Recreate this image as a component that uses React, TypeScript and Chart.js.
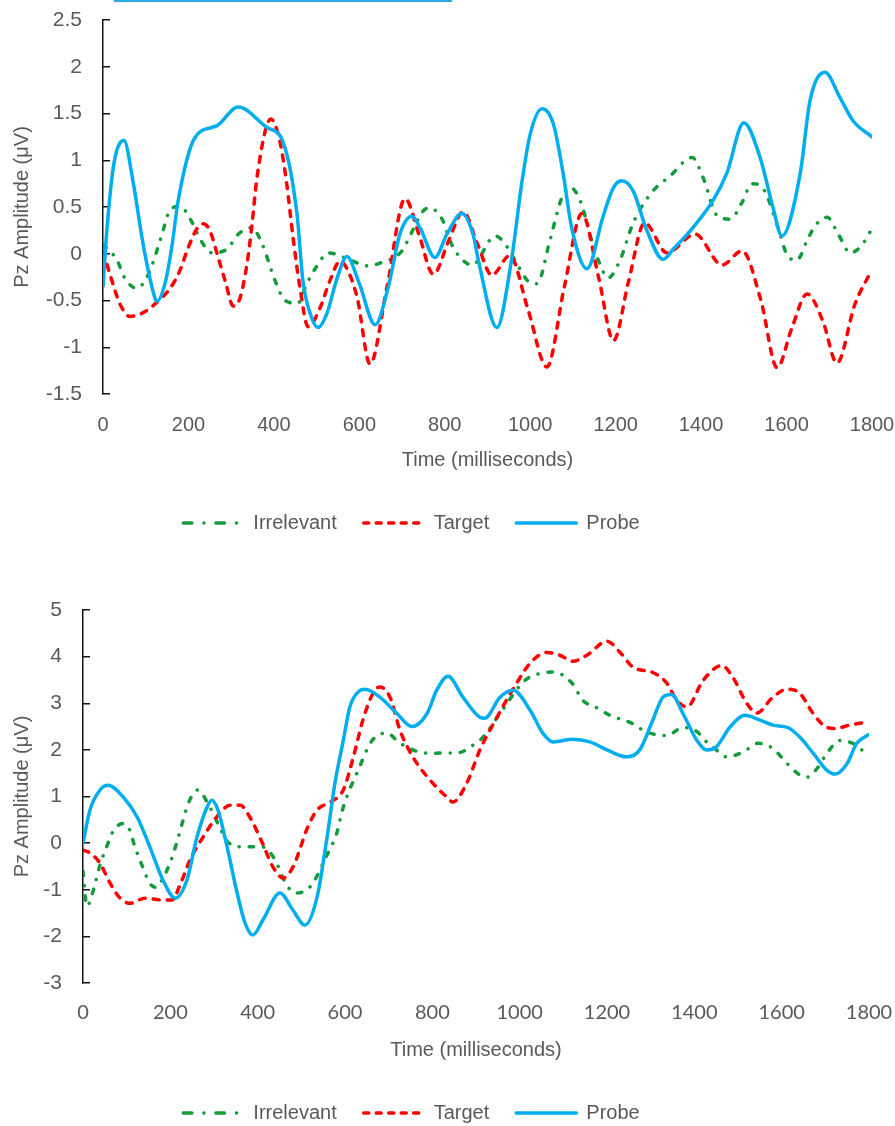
import React, { useEffect, useRef } from "react";
import { Chart, registerables } from "chart.js";

Chart.register(...registerables);

// ---------- data ----------
const seriesNames = ["Irrelevant", "Target", "Probe"];
const xTickValues = [0, 200, 400, 600, 800, 1000, 1200, 1400, 1600, 1800];
const topYTickValues = [-1.5, -1, -0.5, 0, 0.5, 1, 1.5, 2, 2.5];
const bottomYTickValues = [-3, -2, -1, 0, 1, 2, 3, 4, 5];
const xTitleText = "Time (milliseconds)";
const yTitleText = "Pz Amplitude (μV)";

// [time (ms), amplitude (µV)]
const topIrrelevant = [
  [0, 0.1], [33, -0.07], [51, -0.26], [79, -0.37], [106, -0.22], [137, 0.19], [153, 0.43], [180, 0.51],
  [207, 0.35], [227, 0.16], [255, 0.01], [290, 0.05], [317, 0.21], [348, 0.28], [372, 0.11], [403, -0.29],
  [426, -0.5], [456, -0.53], [477, -0.32], [501, -0.13], [527, 0.01], [570, -0.05], [620, -0.13], [648, -0.1],
  [700, 0.03], [713, 0.14], [750, 0.46], [765, 0.49], [796, 0.35], [812, 0.14], [836, -0.04], [864, -0.12],
  [918, 0.19], [948, 0.06], [969, -0.11], [1000, -0.31], [1016, -0.32], [1046, 0.14], [1074, 0.6], [1093, 0.71],
  [1117, 0.57], [1144, 0.14], [1163, -0.11], [1182, -0.26], [1210, -0.07], [1241, 0.33], [1287, 0.67], [1327, 0.83],
  [1379, 1.03], [1405, 0.81], [1437, 0.41], [1468, 0.37], [1496, 0.55], [1519, 0.75], [1545, 0.7], [1580, 0.28],
  [1600, 0.0], [1624, -0.07], [1648, 0.14], [1667, 0.3], [1695, 0.39], [1721, 0.21], [1749, 0.01], [1776, 0.09],
  [1795, 0.23],
];
const topTarget = [
  [0, 0.03], [21, -0.29], [40, -0.54], [63, -0.67], [94, -0.63], [126, -0.52], [157, -0.37], [180, -0.18],
  [199, 0.06], [220, 0.27], [234, 0.32], [250, 0.25], [267, 0.0], [286, -0.29], [305, -0.56], [321, -0.47],
  [337, -0.11], [349, 0.32], [360, 0.8], [393, 1.44], [414, 1.2], [430, 0.75], [445, 0.17], [461, -0.36],
  [480, -0.78], [508, -0.58], [531, -0.29], [555, -0.08], [570, -0.15], [595, -0.47], [625, -1.18], [665, -0.35],
  [707, 0.59], [740, 0.2], [773, -0.22], [810, 0.15], [843, 0.45], [877, 0.1], [910, -0.23], [952, -0.02],
  [995, -0.6], [1039, -1.21], [1080, -0.35], [1121, 0.43], [1160, -0.25], [1195, -0.93], [1230, -0.3], [1268, 0.33],
  [1320, 0.01], [1386, 0.21], [1449, -0.12], [1496, 0.03], [1540, -0.5], [1578, -1.22], [1612, -0.8], [1648, -0.43],
  [1685, -0.72], [1718, -1.17], [1760, -0.54], [1795, -0.21],
];
const topProbe = [
  [0, -0.35], [9, 0.25], [25, 0.95], [49, 1.21], [70, 0.78], [94, 0.1], [117, -0.4], [126, -0.51],
  [145, -0.32], [161, 0.07], [176, 0.57], [215, 1.24], [267, 1.37], [316, 1.57], [384, 1.35], [421, 1.2],
  [454, 0.43], [468, -0.29], [485, -0.64], [503, -0.79], [524, -0.64], [548, -0.26], [571, -0.03], [600, -0.32],
  [637, -0.76], [668, -0.35], [695, 0.21], [723, 0.4], [742, 0.28], [777, -0.04], [805, 0.21], [840, 0.43],
  [866, 0.21], [880, -0.1], [922, -0.79], [955, -0.1], [981, 0.78], [1000, 1.28], [1028, 1.55], [1054, 1.39],
  [1077, 0.86], [1097, 0.28], [1133, -0.16], [1170, 0.39], [1194, 0.7], [1214, 0.78], [1241, 0.67], [1273, 0.25],
  [1311, -0.06], [1335, 0.05], [1381, 0.28], [1428, 0.57], [1460, 0.86], [1500, 1.4], [1538, 1.03], [1568, 0.5],
  [1589, 0.19], [1632, 0.86], [1655, 1.64], [1690, 1.94], [1725, 1.67], [1756, 1.42], [1800, 1.25],
];

const bottomIrrelevant = [
  [0, -0.6], [9, -1.35], [24, -1.0], [38, -0.5], [54, -0.08], [70, 0.27], [92, 0.42], [106, 0.3],
  [119, -0.08], [135, -0.47], [153, -0.86], [167, -0.95], [181, -0.79], [199, -0.43], [215, 0.02], [227, 0.42],
  [241, 0.85], [263, 1.14], [286, 0.85], [309, 0.42], [332, 0.02], [367, -0.08], [410, -0.08], [440, -0.36],
  [458, -0.75], [485, -1.07], [520, -0.94], [561, -0.21], [581, 0.21], [596, 0.77], [630, 1.56], [662, 2.2],
  [696, 2.36], [726, 2.14], [788, 1.93], [860, 1.94], [893, 2.1], [916, 2.27], [955, 2.78], [1012, 3.49],
  [1047, 3.64], [1077, 3.67], [1120, 3.43], [1145, 3.06], [1177, 2.9], [1207, 2.74], [1257, 2.57], [1291, 2.38],
  [1337, 2.31], [1374, 2.48], [1405, 2.4], [1428, 2.17], [1443, 2.06], [1474, 1.85], [1511, 1.95], [1546, 2.14],
  [1580, 2.03], [1612, 1.71], [1646, 1.44], [1660, 1.42], [1681, 1.6], [1704, 1.93], [1733, 2.2], [1763, 2.14],
  [1790, 1.95],
];
const bottomTarget = [
  [0, -0.15], [16, -0.21], [39, -0.43], [62, -0.86], [85, -1.18], [108, -1.29], [142, -1.18], [181, -1.22],
  [204, -1.22], [222, -0.9], [245, -0.36], [275, 0.13], [306, 0.56], [337, 0.81], [360, 0.81], [382, 0.56],
  [410, 0.02], [435, -0.51], [458, -0.75], [481, -0.51], [515, 0.35], [536, 0.71], [566, 0.88], [596, 1.14],
  [619, 1.84], [641, 2.64], [664, 3.21], [680, 3.35], [703, 3.13], [726, 2.42], [756, 1.84], [795, 1.35],
  [833, 0.99], [847, 0.88], [879, 1.29], [909, 2.0], [948, 2.7], [993, 3.43], [1024, 3.86], [1062, 4.09],
  [1092, 4.03], [1122, 3.9], [1154, 4.03], [1200, 4.33], [1230, 4.09], [1260, 3.77], [1305, 3.66], [1337, 3.43],
  [1360, 3.06], [1383, 2.92], [1420, 3.49], [1463, 3.81], [1488, 3.56], [1520, 3.0], [1543, 2.79], [1580, 3.13],
  [1612, 3.3], [1642, 3.21], [1672, 2.78], [1704, 2.48], [1722, 2.46], [1756, 2.53], [1795, 2.6],
];
const bottomProbe = [
  [0, 0], [16, 0.71], [39, 1.14], [57, 1.24], [92, 0.99], [124, 0.56], [153, -0.08], [183, -0.79],
  [211, -1.18], [238, -0.79], [261, 0.13], [284, 0.77], [295, 0.92], [309, 0.71], [330, -0.08], [353, -1.07],
  [371, -1.71], [389, -1.97], [412, -1.65], [451, -1.07], [481, -1.44], [508, -1.76], [536, -1.16], [559, 0.13],
  [577, 1.29], [596, 2.2], [611, 2.92], [630, 3.24], [646, 3.3], [680, 3.13], [719, 2.78], [753, 2.5],
  [788, 2.78], [810, 3.28], [836, 3.58], [870, 3.13], [909, 2.7], [920, 2.68], [955, 3.13], [985, 3.28],
  [1024, 2.85], [1053, 2.36], [1077, 2.17], [1122, 2.23], [1161, 2.17], [1200, 2.0], [1245, 1.85], [1275, 2.0],
  [1305, 2.64], [1328, 3.13], [1348, 3.19], [1374, 2.78], [1406, 2.2], [1428, 2.0], [1450, 2.06], [1481, 2.48],
  [1516, 2.74], [1550, 2.64], [1580, 2.53], [1614, 2.48], [1642, 2.27], [1672, 1.93], [1704, 1.56], [1722, 1.48],
  [1750, 1.71], [1772, 2.14], [1800, 2.33],
];

// ---------- styles ----------
const GREEN = "#149B3C";
const RED = "#FF0000";
const BLUE = "#00AEEF";
const TEXT = "#595959";
const AXIS = "#151515";
const FONT = "'Liberation Sans', Arial, sans-serif";

const seriesColors = [GREEN, RED, BLUE];
const lineDashes = [[4.5, 10, 0.1, 10], [6, 8], []];
const legendDashes = [[8.5, 12, 0.1, 12], [5, 7.5], []];
const drawOrder = [3, 2, 1];

type Layout = {
  width: number;
  height: number;
  left: number;
  top: number;
  padTop: number;
  padRight: number;
  yWidth: number;
  yTitlePad: number;
  xHeight: number;
  xTickPad: number;
  xTitlePadBottom: number;
  xTickFamily: string;
  yMin: number;
  yMax: number;
};

function makeConfig(series: number[][][], yTicks: number[], L: Layout): any {
  return {
    type: "line",
    data: {
      datasets: series.map((s, i) => ({
        label: seriesNames[i],
        data: s.map(([x, y]) => ({ x, y })),
        borderColor: seriesColors[i],
        backgroundColor: seriesColors[i],
        borderWidth: 3.5,
        borderDash: lineDashes[i],
        borderCapStyle: "round",
        borderJoinStyle: "round",
        pointRadius: 0,
        pointHoverRadius: 0,
        fill: false,
        cubicInterpolationMode: "monotone",
        order: drawOrder[i],
      })),
    },
    options: {
      responsive: false,
      animation: false,
      devicePixelRatio: 1,
      events: [],
      layout: { padding: { left: 0, right: L.padRight, top: L.padTop, bottom: 0 } },
      scales: {
        x: {
          type: "linear",
          min: 0,
          max: 1800,
          afterBuildTicks: (s: any) => {
            s.ticks = xTickValues.map((v) => ({ value: v }));
          },
          afterFit: (s: any) => {
            s.height = L.xHeight;
          },
          ticks: {
            callback: (v: any) => String(v),
            font: { family: L.xTickFamily, size: 20 },
            color: TEXT,
            padding: L.xTickPad,
            maxRotation: 0,
            autoSkip: false,
          },
          grid: { display: false, drawTicks: false },
          border: { display: false },
          title: {
            display: true,
            text: xTitleText,
            font: { family: FONT, size: 20 },
            color: TEXT,
            padding: { top: 0, bottom: L.xTitlePadBottom },
          },
        },
        y: {
          type: "linear",
          min: L.yMin,
          max: L.yMax,
          afterBuildTicks: (s: any) => {
            s.ticks = yTicks.map((v) => ({ value: v }));
          },
          afterFit: (s: any) => {
            s.width = L.yWidth;
          },
          ticks: {
            callback: (v: any) => String(v),
            font: { family: FONT, size: 21 },
            color: TEXT,
            padding: 28,
            autoSkip: false,
          },
          grid: {
            display: true,
            drawOnChartArea: false,
            drawTicks: true,
            tickLength: -7,
            color: AXIS,
            lineWidth: 1.5,
          },
          border: { display: true, color: AXIS, width: 1.5 },
          title: {
            display: true,
            text: yTitleText,
            font: { family: FONT, size: 20 },
            color: TEXT,
            padding: { top: L.yTitlePad, bottom: 0 },
          },
        },
      },
      plugins: {
        tooltip: { enabled: false },
        legend: {
          display: true,
          position: "bottom",
          align: "center",
          labels: {
            usePointStyle: true,
            pointStyle: "line",
            pointStyleWidth: 60,
            padding: 27,
            color: TEXT,
            font: { family: FONT, size: 20 },
            generateLabels: (chart: any) => {
              const base = (Chart.defaults.plugins.legend.labels as any).generateLabels(chart);
              return base.map((it: any) => ({
                ...it,
                pointStyle: "line",
                lineDash: legendDashes[it.datasetIndex],
                lineWidth: 3.5,
                lineCap: "round",
                strokeStyle: seriesColors[it.datasetIndex],
                fillStyle: seriesColors[it.datasetIndex],
              }));
            },
            sort: (a: any, b: any) => a.datasetIndex - b.datasetIndex,
          },
        },
      },
    },
  };
}

const topLayout: Layout = {
  width: 967, height: 564, left: -49, top: -21,
  padTop: 41, padRight: 46, yWidth: 152, yTitlePad: 59,
  xHeight: 92, xTickPad: 19, xTitlePadBottom: 14, xTickFamily: FONT,
  yMin: -1.5, yMax: 2.5,
};
const bottomLayout: Layout = {
  width: 961, height: 573, left: -46, top: 560,
  padTop: 50, padRight: 46, yWidth: 129, yTitlePad: 56,
  xHeight: 93, xTickPad: 18, xTitlePadBottom: 14, xTickFamily: "Lato, 'Liberation Sans', sans-serif",
  yMin: -3, yMax: 5,
};

function ChartPanel({ series, yTicks, layout }: { series: number[][][]; yTicks: number[]; layout: Layout }) {
  const ref = useRef<HTMLCanvasElement | null>(null);
  useEffect(() => {
    if (!ref.current) return;
    const chart = new Chart(ref.current, makeConfig(series, yTicks, layout));
    return () => chart.destroy();
  }, []);
  return (
    <canvas
      ref={ref}
      width={layout.width}
      height={layout.height}
      style={{
        position: "absolute",
        left: layout.left,
        top: layout.top,
        width: layout.width,
        height: layout.height,
      }}
    />
  );
}

export default function App() {
  return (
    <div
      style={{
        position: "absolute",
        left: 0,
        top: 0,
        width: 895,
        height: 1126,
        overflow: "hidden",
        background: "#ffffff",
      }}
    >
      <ChartPanel series={[topIrrelevant, topTarget, topProbe]} yTicks={topYTickValues} layout={topLayout} />
      <ChartPanel series={[bottomIrrelevant, bottomTarget, bottomProbe]} yTicks={bottomYTickValues} layout={bottomLayout} />
      <div style={{ position: "absolute", left: 114, top: 0, width: 338, height: 2, background: "#29ABE2" }} />
    </div>
  );
}
